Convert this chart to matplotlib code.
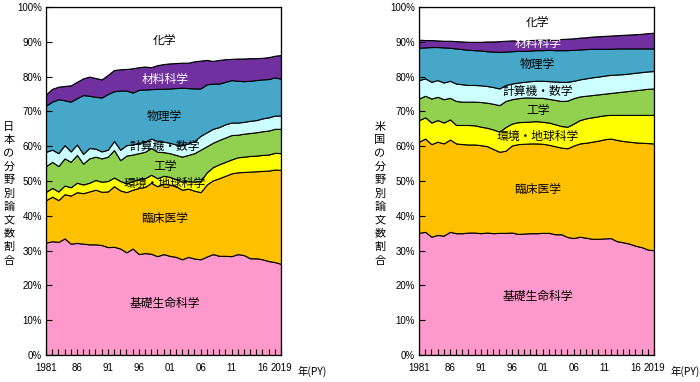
import numpy as np
import matplotlib.pyplot as plt
from matplotlib.ticker import FixedLocator, MultipleLocator

plt.rcParams['font.family'] = ['Noto Sans CJK JP', 'DejaVu Sans']

years = np.arange(1981, 2020)

fields = ['基礎生命科学', '臨床医学', '環境・地球科学', '工学',
          '計算機・数学', '物理学', '材料科学', '化学']
colors = ['#ff99cc', '#ffc000', '#ffff00', '#92d050',
          '#ccffff', '#46a7c8', '#7030a0', '#ffffff']

# 日本 (%)
jp_life = [32.3, 32.7, 32.5, 33.5, 32.0, 32.2, 32.0, 31.8, 31.8, 31.6, 31.0, 31.1, 30.6,
           29.5, 30.6, 29.0, 29.3, 29.1, 28.4, 29.0, 28.5, 28.2, 27.5, 28.2, 27.7, 27.5,
           28.3, 29.0, 28.5, 28.5, 28.4, 29.0, 28.7, 27.8, 27.8, 27.5, 27.0, 26.7, 26.2]
jp_clin = [12.2, 12.8, 12.0, 12.7, 13.8, 14.6, 14.5, 15.2, 15.7, 15.3, 16.0, 17.4, 16.7,
           17.3, 16.9, 19.0, 19.0, 20.4, 20.1, 20.2, 20.5, 20.3, 20.0, 19.6, 19.5, 19.3,
           20.7, 21.2, 22.3, 23.0, 23.8, 23.5, 23.9, 24.9, 25.0, 25.4, 26.0, 26.6, 27.0]
jp_env = [2.4, 2.5, 2.5, 2.5, 2.4, 2.7, 2.5, 2.5, 2.8, 2.9, 3.0, 2.5, 2.7,
          2.5, 2.5, 2.5, 2.5, 2.3, 2.3, 2.3, 2.2, 2.0, 2.3, 2.2, 2.6, 3.2,
          3.5, 3.8, 4.0, 4.0, 4.0, 4.3, 4.4, 4.5, 4.5, 4.6, 4.6, 4.8, 4.8]
jp_eng = [7.4, 7.5, 7.3, 7.8, 7.3, 8.0, 6.0, 7.0, 6.7, 6.7, 7.0, 7.9, 6.0,
          8.0, 7.6, 7.5, 7.6, 7.7, 7.6, 6.8, 6.8, 7.0, 7.2, 7.5, 8.2, 9.0,
          7.5, 7.0, 7.0, 7.0, 7.0, 6.5, 6.6, 6.6, 6.7, 6.8, 6.9, 6.9, 7.0]
jp_comp = [4.1, 3.5, 3.7, 3.8, 3.0, 3.0, 2.8, 3.0, 2.3, 2.0, 2.0, 2.6, 3.0,
           3.0, 2.9, 3.0, 2.8, 2.7, 3.1, 3.0, 3.0, 3.0, 3.3, 3.3, 3.5, 4.0,
           4.0, 4.0, 3.7, 3.8, 3.6, 3.5, 3.4, 3.5, 3.5, 3.7, 3.8, 3.8, 3.8]
jp_phys = [13.3, 13.8, 15.5, 12.9, 14.3, 13.3, 16.9, 15.0, 14.9, 15.5, 16.0, 14.3, 17.0,
           15.7, 14.9, 15.2, 15.1, 14.2, 15.0, 15.2, 15.6, 16.2, 16.5, 15.9, 15.1, 13.6,
           13.8, 13.0, 12.5, 12.2, 12.2, 12.0, 11.7, 11.5, 11.5, 11.2, 11.0, 11.0, 10.6]
jp_mat = [3.2, 3.7, 3.6, 4.1, 4.7, 4.7, 4.8, 5.5, 5.4, 5.2, 5.5, 6.1, 6.1,
          6.2, 7.0, 6.5, 6.6, 6.3, 6.8, 7.1, 7.2, 7.2, 7.2, 7.3, 7.8, 8.0,
          7.0, 6.5, 6.8, 6.5, 6.1, 6.4, 6.5, 6.5, 6.3, 6.2, 6.3, 6.2, 6.8]
jp_chem = [25.1, 23.5, 22.9, 22.7, 22.5, 21.5, 20.5, 20.0, 20.4, 20.8, 19.5, 18.1, 17.9,
           17.8, 17.6, 17.3, 17.1, 17.3, 16.7, 16.4, 16.2, 16.1, 16.0, 16.0, 15.6, 15.4,
           15.2, 15.5, 15.2, 15.0, 14.9, 14.8, 14.8, 14.7, 14.7, 14.6, 14.4, 14.0, 13.8]

# 米国 (%)
us_life = [35.1, 35.4, 34.0, 34.5, 34.3, 35.4, 35.0, 35.0, 35.2, 35.2, 35.0, 35.2, 35.0,
           35.1, 35.1, 35.2, 34.8, 34.9, 35.0, 35.0, 35.1, 35.1, 34.7, 34.7, 33.9, 33.6,
           34.0, 33.7, 33.4, 33.4, 33.5, 33.6, 32.7, 32.4, 32.0, 31.4, 31.0, 30.3, 30.1]
us_clin = [26.2, 26.8, 26.6, 26.8, 26.5, 26.5, 25.8, 25.6, 25.3, 25.3, 25.3, 24.8, 24.2,
           23.3, 23.6, 25.0, 25.8, 25.8, 25.8, 25.8, 25.6, 25.3, 25.3, 24.9, 25.5, 26.6,
           26.8, 27.3, 27.9, 28.2, 28.5, 28.6, 29.1, 29.1, 29.3, 29.7, 30.0, 30.6, 30.7]
us_env = [6.2, 6.1, 6.2, 6.2, 6.0, 5.8, 5.3, 5.5, 5.6, 5.5, 5.3, 5.3, 5.6,
          5.8, 6.8, 6.3, 6.3, 6.3, 6.3, 6.4, 6.3, 6.4, 6.3, 6.2, 6.2, 6.3,
          6.7, 7.0, 7.0, 7.0, 6.9, 6.8, 7.2, 7.5, 7.7, 7.9, 8.0, 8.1, 8.2]
us_eng = [6.2, 6.2, 6.9, 6.7, 6.7, 6.2, 6.9, 6.7, 6.7, 6.8, 7.1, 7.2, 7.4,
          7.6, 7.5, 7.0, 6.9, 7.0, 6.9, 6.7, 6.9, 6.8, 7.0, 7.2, 7.5, 7.3,
          6.8, 6.5, 6.4, 6.3, 6.2, 6.3, 6.5, 6.7, 6.9, 7.1, 7.3, 7.5, 7.6]
us_comp = [5.3, 5.0, 4.8, 4.8, 4.8, 4.9, 5.0, 5.0, 4.8, 4.8, 4.8, 4.8, 4.8,
           4.8, 4.6, 4.5, 4.5, 4.5, 4.7, 4.9, 4.9, 5.1, 5.3, 5.5, 5.4, 5.0,
           4.9, 5.0, 5.1, 5.1, 5.2, 5.2, 5.1, 5.0, 5.0, 5.0, 5.0, 5.0, 5.0]
us_phys = [9.3, 8.9, 10.0, 9.5, 10.1, 9.5, 10.1, 10.1, 10.1, 10.0, 10.0, 10.0, 10.2,
           10.5, 9.6, 9.3, 9.1, 8.9, 8.8, 8.8, 8.8, 9.0, 9.0, 9.1, 9.1, 8.9,
           8.6, 8.4, 8.2, 8.0, 7.7, 7.5, 7.5, 7.4, 7.2, 7.0, 6.8, 6.6, 6.5]
us_mat = [2.3, 2.1, 2.0, 1.9, 1.9, 2.0, 2.1, 2.2, 2.3, 2.4, 2.5, 2.8, 2.9,
          3.1, 3.1, 3.1, 3.0, 3.1, 3.0, 3.0, 3.0, 3.0, 3.1, 3.2, 3.3, 3.3,
          3.4, 3.4, 3.5, 3.6, 3.7, 3.8, 3.8, 3.9, 4.0, 4.1, 4.2, 4.4, 4.5]
us_chem = [9.4, 9.5, 9.5, 9.6, 9.7, 9.7, 9.8, 9.9, 10.0, 10.0, 10.0, 9.9, 9.9,
           9.8, 9.7, 9.6, 9.6, 9.5, 9.5, 9.4, 9.4, 9.3, 9.3, 9.2, 9.1, 9.0,
           8.8, 8.7, 8.5, 8.4, 8.3, 8.2, 8.1, 8.0, 7.9, 7.8, 7.7, 7.5, 7.4]

xtick_pos = [1981, 1986, 1991, 1996, 2001, 2006, 2011, 2016, 2019]
xtick_lab = ['1981', '86', '91', '96', '01', '06', '11', '16', '2019']

jp_label_y = [14.9, 39.1, 49.4, 54.3, 59.8, 68.4, 79.3, 90.5]
us_label_y = [16.9, 47.7, 62.9, 70.4, 75.6, 83.6, 89.4, 95.7]
label_colors = ['black'] * 6 + ['white', 'black']

num_font = ['Liberation Sans', 'Noto Sans CJK JP']

fig = plt.figure(figsize=(7.0, 3.82), dpi=100)
ax_jp = fig.add_axes([46 / 700, 27 / 382, 235 / 700, 348 / 382])
ax_us = fig.add_axes([419 / 700, 27 / 382, 235 / 700, 348 / 382])


def draw(ax, series, label_y, ylabel, ylabel_x):
    ax.stackplot(years, *series, colors=colors, edgecolor='black', linewidth=0.8)
    ax.set_xlim(1981, 2019)
    ax.set_ylim(0, 100)
    ax.xaxis.set_major_locator(FixedLocator(xtick_pos))
    ax.set_xticklabels(xtick_lab, family=num_font)
    ax.xaxis.set_minor_locator(MultipleLocator(1))
    ax.set_yticks(range(0, 101, 10))
    ax.set_yticklabels([f'{v}%' for v in range(0, 101, 10)], family=num_font)
    ax.tick_params(which='both', direction='in', length=4, width=0.8,
                   labelsize=7, top=False, right=False)
    ax.tick_params(axis='x', pad=6)
    ax.tick_params(axis='y', pad=3)
    for s in ax.spines.values():
        s.set_linewidth(0.9)
    for name, y, c in zip(fields, label_y, label_colors):
        ax.text(2000.2, y, name, ha='center', va='center', fontsize=8.5, color=c)
    ax.text(1.072, -0.046, '年(PY)', transform=ax.transAxes, ha='left',
            va='center', fontsize=7.5)
    fig.text(ylabel_x, 0.493, '\n'.join(ylabel), ha='center', va='center',
             fontsize=8, linespacing=1.42)


draw(ax_jp, [jp_life, jp_clin, jp_env, jp_eng, jp_comp, jp_phys, jp_mat, jp_chem],
     jp_label_y, '日本の分野別論文数割合', 9 / 700)
draw(ax_us, [us_life, us_clin, us_env, us_eng, us_comp, us_phys, us_mat, us_chem],
     us_label_y, '米国の分野別論文数割合', 380 / 700)

fig.savefig('out.png', dpi=100)
